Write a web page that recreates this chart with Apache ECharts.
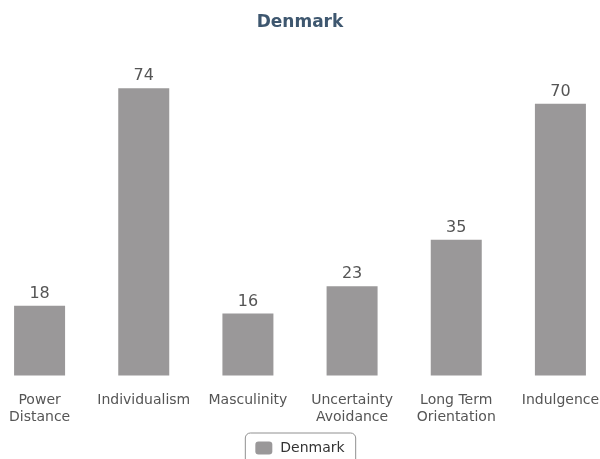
<!DOCTYPE html>
<html>
<head>
<meta charset="utf-8">
<script src="https://cdn.jsdelivr.net/npm/echarts@6/dist/echarts.min.js"></script>
<style>html,body{margin:0;padding:0;background:#fff}#c{width:600px;height:459px}</style>
</head>
<body>
<div id="c"></div>
<script>
var categories = ['Power\nDistance', 'Individualism', 'Masculinity', 'Uncertainty\nAvoidance', 'Long Term\nOrientation', 'Indulgence'];
var seriesName = 'Denmark';
var values = [18, 74, 16, 23, 35, 70];
var FONT = 'DejaVu Sans';
var chart = echarts.init(document.getElementById('c'), null, {renderer: 'canvas'});
chart.setOption({
  animation: false,
  title: {
    text: 'Denmark', left: 'center', top: 9,
    textStyle: {fontFamily: FONT, fontSize: 17, fontWeight: 'bold', color: '#3e576f'}
  },
  legend: {
    bottom: -8, left: 'center',
    data: [seriesName],
    itemWidth: 17, itemHeight: 13, itemGap: 8,
    padding: [8, 11, 12, 10],
    borderColor: '#909090', borderWidth: 1, borderRadius: 5,
    textStyle: {fontFamily: FONT, fontSize: 14, color: '#333', padding: [0, 0, 0, 3]},
    icon: 'roundRect'
  },
  grid: {left: -12.5, width: 625, top: 65, height: 310.5, containLabel: false, outerBoundsMode: 'none'},
  xAxis: {
    type: 'category', data: categories,
    axisLine: {show: false}, axisTick: {show: false},
    axisLabel: {fontFamily: FONT, fontSize: 14, color: '#555', margin: 16, lineHeight: 17, interval: 0}
  },
  yAxis: {type: 'value', min: 0, max: 80, show: false, splitLine: {show: false}},
  series: [{
    name: seriesName, type: 'bar', data: values, barWidth: 51,
    itemStyle: {color: '#9a9899'},
    label: {show: true, position: 'top', distance: 4, fontFamily: FONT, fontSize: 16, color: '#555'}
  }]
});
</script>
</body>
</html>
